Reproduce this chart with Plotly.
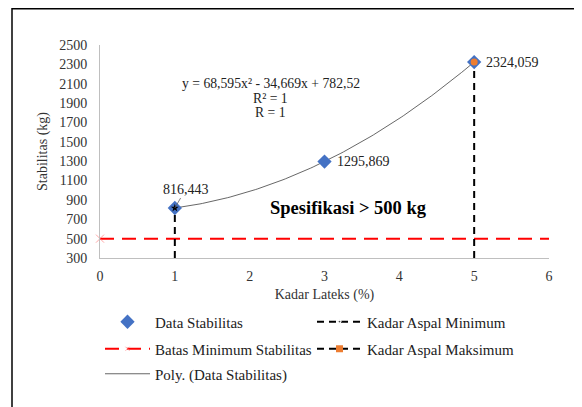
import numpy as np
import plotly.graph_objects as go

# ---- data ----
kadar_lateks = [1, 3, 5]
stabilitas = [816.443, 1295.869, 2324.059]
label_text = ["816,443", "1295,869", "2324,059"]
batas_x = [0, 6]
batas_y = [500, 500]
min_x = [1, 1]
min_y = [300, 816.443]
max_x = [5, 5]
max_y = [300, 2324.059]
eq_lines = ["y = 68,595x² - 34,669x + 782,52", "R² = 1", "R = 1"]
eq_pos_y = [2107, 1952, 1798]
spec_text = "<b>Spesifikasi > 500 kg</b>"

FONT = "Liberation Serif"
W, H = 582, 407
OFF = 8  # page body margin
ML, MT = 92, 37
PW, PH = 449, 213
MR, MB = W - ML - PW, H - MT - PH

def px(sx):
    return (sx - OFF - ML) / PW

def py(sy):
    return 1 - (sy - OFF - MT) / PH

# polynomial trendline fitted from the data
coef = np.polyfit(kadar_lateks, stabilitas, 2)
xs = np.linspace(kadar_lateks[0], kadar_lateks[-1], 120)
ys = np.polyval(coef, xs)

DASH_K = "7px,5px"
fig = go.Figure()
fig.add_trace(go.Scatter(x=batas_x, y=batas_y, mode="lines+markers", cliponaxis=False,
                         name="Batas Minimum Stabilitas", legend="legend2", legendrank=1,
                         line=dict(color="#FF0000", width=2, dash="14px,8px"),
                         marker=dict(symbol="x-thin", size=[8, 0], color="#FF8080",
                                     line=dict(color="#FF8080", width=1))))
fig.add_trace(go.Scatter(x=min_x, y=min_y, mode="lines+markers",
                         name="Kadar Aspal Minimum", legend="legend", legendrank=2,
                         line=dict(color="black", width=2, dash=DASH_K),
                         marker=dict(symbol="star", size=[0, 7], color="black")))
fig.add_trace(go.Scatter(x=max_x, y=max_y, mode="lines",
                         name="Kadar Aspal Maksimum", showlegend=False,
                         line=dict(color="black", width=2, dash=DASH_K)))
fig.add_trace(go.Scatter(x=xs, y=ys, mode="lines", name="Poly. (Data Stabilitas)",
                         legend="legend3", line=dict(color="#404040", width=0.8)))
fig.add_trace(go.Scatter(x=kadar_lateks, y=stabilitas, mode="markers",
                         name="Data Stabilitas", legend="legend", legendrank=1,
                         marker=dict(symbol="diamond", size=11, color="#4472C4")))
fig.add_trace(go.Scatter(x=[max_x[1]], y=[max_y[1]], mode="markers",
                         name="Kadar Aspal Maksimum", showlegend=False,
                         marker=dict(symbol="circle", size=7, color="#ED7D31")))
fig.add_trace(go.Scatter(x=[min_x[1]], y=[min_y[1]], mode="markers", showlegend=False,
                         marker=dict(symbol="star", size=6, color="black")))
# legend-only entry for max
fig.add_trace(go.Scatter(x=[None], y=[None], mode="lines+markers",
                         name="Kadar Aspal Maksimum", legend="legend2", legendrank=2,
                         line=dict(color="black", width=2, dash=DASH_K),
                         marker=dict(symbol="square", size=7, color="#ED7D31")))

# labels
lab_font = dict(family=FONT, size=14, color="#222")
fig.add_annotation(x=kadar_lateks[0], y=stabilitas[0], text=label_text[0], showarrow=True,
                   arrowhead=0, arrowwidth=0.8, arrowcolor="#606060", ax=11, ay=-19,
                   font=lab_font)
for i in (1, 2):
    fig.add_annotation(x=kadar_lateks[i], y=stabilitas[i], text=label_text[i], showarrow=False,
                       xanchor="left", xshift=10, yanchor="middle", font=lab_font)
for t, yy in zip(eq_lines, eq_pos_y):
    fig.add_annotation(x=2.28, y=yy, text=t, showarrow=False, align="center",
                       font=dict(family=FONT, size=13.7, color="#222"))
fig.add_annotation(x=3.32, y=816, text=spec_text, showarrow=False,
                   font=dict(family=FONT, size=18.5, color="black"))

# frame lines
fig.add_shape(type="line", xref="paper", yref="paper", x0=px(12), x1=px(600), y0=py(8.8), y1=py(8.8),
              line=dict(color="black", width=1.5))
fig.add_shape(type="line", xref="paper", yref="paper", x0=px(12), x1=px(12), y0=py(8), y1=py(430),
              line=dict(color="black", width=1.5))

axis_font = dict(family=FONT, size=14, color="#333")
leg_common = dict(orientation="h", x=px(100), xanchor="left", yanchor="middle",
                  entrywidth=152, entrywidthmode="pixels", itemwidth=45,
                  font=dict(family=FONT, size=15, color="#222"),
                  traceorder="normal", itemclick=False, bgcolor="rgba(0,0,0,0)")
fig.update_layout(
    width=W, height=H, margin=dict(l=ML, r=MR, t=MT, b=MB, autoexpand=False),
    paper_bgcolor="white", plot_bgcolor="white",
    font=dict(family=FONT, size=13, color="#222"),
    showlegend=True,
    legend=dict(y=py(322), **leg_common),
    legend2=dict(y=py(349), **leg_common),
    legend3=dict(y=py(374), **leg_common),
    xaxis=dict(range=[0, 6], dtick=1, showgrid=False, zeroline=False, showline=True,
               linecolor="#BFBFBF", linewidth=1, ticks="", tickfont=axis_font,
               ticklabelstandoff=5,
               title=dict(text="Kadar Lateks (%)", font=axis_font, standoff=6)),
    yaxis=dict(range=[300, 2500], tick0=300, dtick=200, showgrid=False, zeroline=False,
               showline=True, linecolor="#BFBFBF", linewidth=1, ticks="", tickfont=axis_font,
               ticklabelstandoff=9,
               title=dict(text="Stabilitas (kg)", font=axis_font, standoff=8)),
)

fig.write_html("out.html")
